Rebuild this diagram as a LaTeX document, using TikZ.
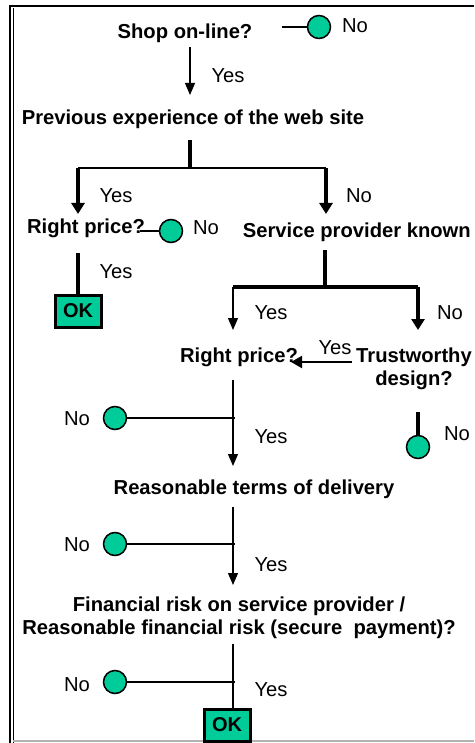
\documentclass[tikz,border=0pt]{standalone}
\usepackage{fontspec}
\setmainfont{Liberation Sans}
\usetikzlibrary{arrows.meta}
\definecolor{okgreen}{RGB}{0,204,153}

\tikzset{
    q/.style={font=\fontsize{20.2}{23}\selectfont\bfseries, inner sep=0pt, align=center},
    lbl/.style={font=\fontsize{20.2}{23}\selectfont, inner sep=0pt},
    endc/.style={circle, draw, line width=1.5pt, fill=okgreen, minimum size=23pt, inner sep=0pt},
    okbox/.style={draw, line width=3pt, fill=okgreen, font=\fontsize{20}{23}\selectfont\bfseries,
        minimum width=46pt, minimum height=32pt, inner sep=0pt},
    finearr/.style={line width=1.2pt, -{Triangle[length=12pt,width=10pt]}},
    bigarr/.style={line width=4pt, -{Triangle[length=11pt,width=13pt]}},
    fineln/.style={line width=1.2pt},
    bar/.style={line width=4pt},
    midbar/.style={line width=2.5pt}
}

\begin{document}
\begin{tikzpicture}[x=1pt, y=-1pt]

    \useasboundingbox (0,0) rectangle (474,743);
    \clip (0,0) rectangle (474,743);

    % frame
    \draw [line width=2pt] (10,6) -- (474,6);
    \draw [line width=2pt] (10,5) -- (10,743);
    \draw [line width=1.2pt] (13.5,8) -- (13.5,743);
    \draw [line width=1.5pt, gray!60] (13,741) -- (474,741);

    % questions
    \node[q] (shop) at (185,33) {Shop on-line?};
    \node[q] (prev) at (193,119) {Previous experience of the web site};
    \node[q] (rp1) at (86,228) {Right price?};
    \node[q, anchor=east] (spk) at (471,232) {Service provider known};
    \node[q] (rp2) at (239,357) {Right price?};
    \node[q] (tw) at (414,369) {Trustworthy\\design?};
    \node[q] (rtd) at (254,489) {Reasonable terms of delivery};
    \node[q] (fin) at (239,618) {Financial risk on service provider /\\Reasonable financial risk (secure\ \ payment)?};

    % ends
    \node[endc] (c1) at (319,27) {};
    \node[endc] (c2) at (171,231) {};
    \node[endc] (c3) at (418,447) {};
    \node[endc] (c4) at (115,418) {};
    \node[endc] (c5) at (115,544) {};
    \node[endc] (c6) at (115,682) {};
    \node[okbox] (ok1) at (78,311) {OK};
    \node[okbox] (ok2) at (227,725) {OK};

    % junctions
    \coordinate (a1) at (190,47);
    \coordinate (a2) at (190,95);
    \coordinate (b1) at (190,140);
    \coordinate (b2) at (190,168);
    \coordinate (bl) at (78,168);
    \coordinate (br) at (326,168);
    \coordinate (bl2) at (78,214);
    \coordinate (br2) at (326,214);
    \coordinate (d1) at (78,253);
    \coordinate (e1) at (325,250);
    \coordinate (e2) at (325,287);
    \coordinate (el) at (233,287);
    \coordinate (er) at (418,287);
    \coordinate (el2) at (233,330);
    \coordinate (er2) at (418,330);
    \coordinate (f1) at (352,362);
    \coordinate (f2) at (291,362);
    \coordinate (g1) at (418,412);
    \coordinate (h1) at (233,380);
    \coordinate (h2) at (233,466);
    \coordinate (hm) at (235,418);
    \coordinate (i1) at (233,507);
    \coordinate (i2) at (233,585);
    \coordinate (im) at (235,544);
    \coordinate (j1) at (233,644);
    \coordinate (jm) at (235,682);
    \coordinate (k1) at (282,27);
    \coordinate (k2) at (140,231);

    % connectors
    \draw [midbar] (k1) -- (c1);
    \draw [finearr] (a1) -- (a2);
    \draw [bar] (b1) -- (b2);
    \draw [midbar] (bl) -- (br);
    \draw [bigarr] (bl) -- (bl2);
    \draw [bigarr] (br) -- (br2);
    \draw [midbar] (k2) -- (c2);
    \draw [bar] (d1) -- (ok1.north);
    \draw [bar] (e1) -- (e2);
    \draw [bar] (el) -- (er);
    \draw [finearr] (el) -- (el2);
    \draw [bigarr] (er) -- (er2);
    \draw [line width=2pt, -{Triangle[length=11pt,width=12pt]}] (f1) -- (f2);
    \draw [bar] (g1) -- (c3.north);
    \draw [finearr] (h1) -- (h2);
    \draw [fineln] (c4) -- (hm);
    \draw [finearr] (i1) -- (i2);
    \draw [midbar] (c5) -- (im);
    \draw [fineln] (j1) -- (ok2.north -| j1);
    \draw [fineln] (c6) -- (jm);

    % labels
    \node[lbl] (n1) at (355,26) {No};
    \node[lbl] (y1) at (228,76) {Yes};
    \node[lbl] (y2) at (116,196) {Yes};
    \node[lbl] (n2) at (359,196) {No};
    \node[lbl] (n3) at (206,228) {No};
    \node[lbl] (y3) at (116,272) {Yes};
    \node[lbl] (y4) at (271,313) {Yes};
    \node[lbl] (n4) at (450,313) {No};
    \node[lbl] (y5) at (335,348) {Yes};
    \node[lbl] (n5) at (457,434) {No};
    \node[lbl] (n6) at (77,419) {No};
    \node[lbl] (y6) at (271,437) {Yes};
    \node[lbl] (n7) at (77,545) {No};
    \node[lbl] (y7) at (271,565) {Yes};
    \node[lbl] (n8) at (77,685) {No};
    \node[lbl] (y8) at (271,690) {Yes};

\end{tikzpicture}
\end{document}
